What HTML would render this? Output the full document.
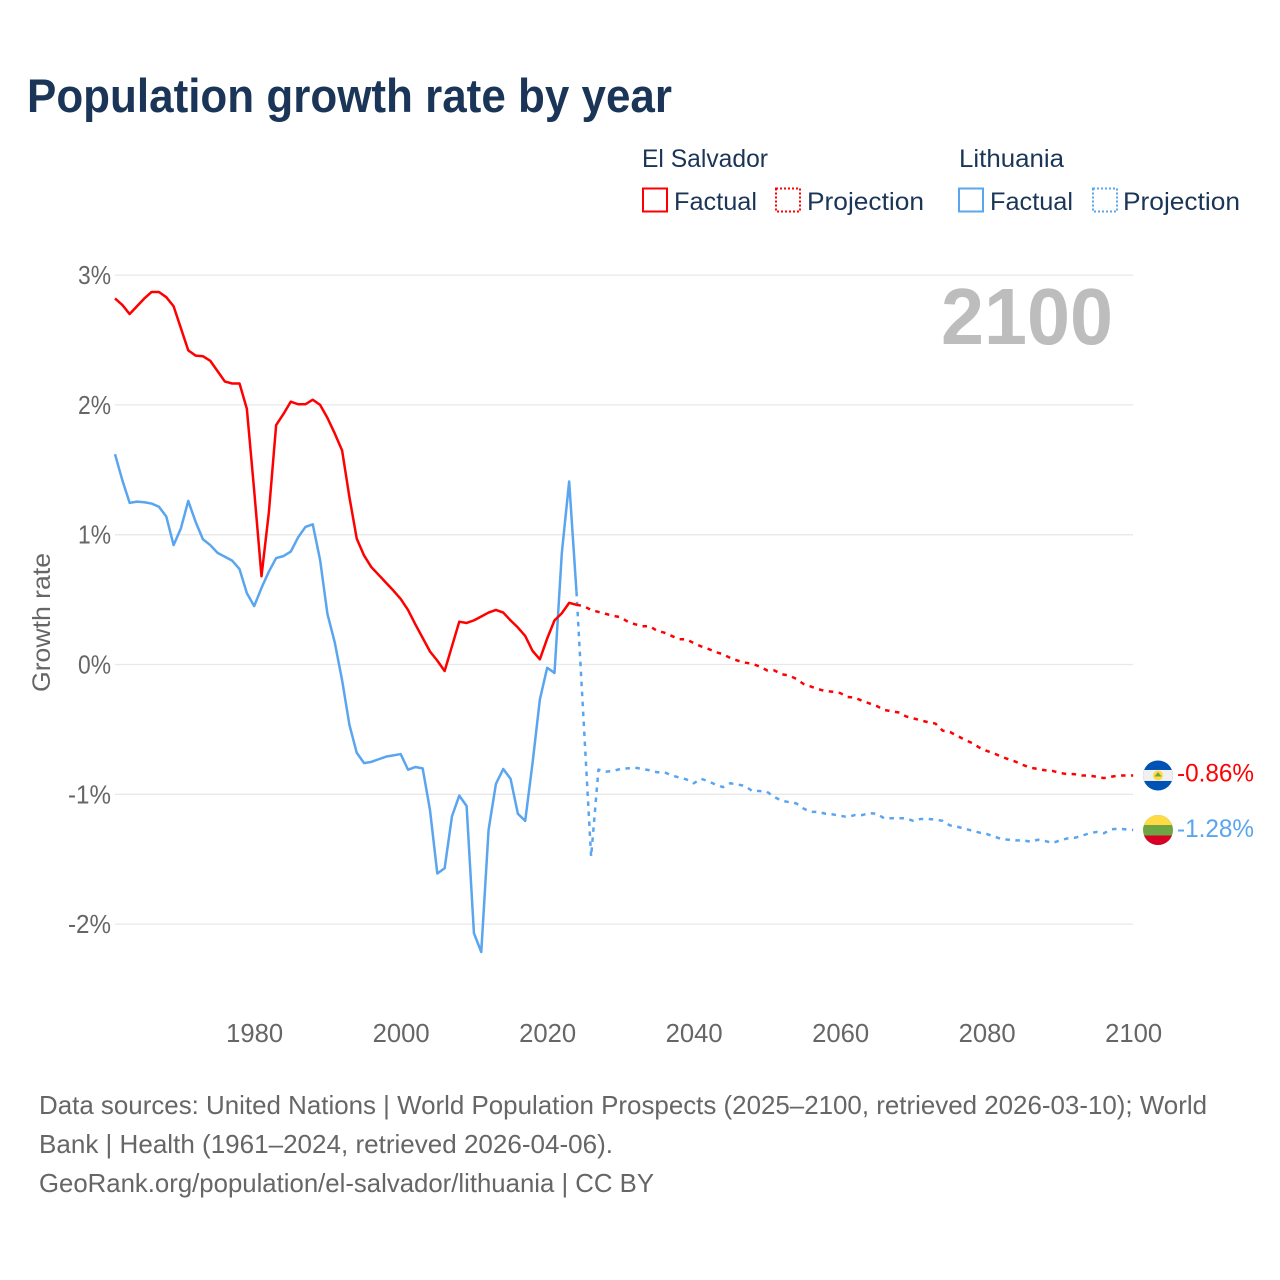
<!DOCTYPE html>
<html lang="en">
<head>
<meta charset="utf-8">
<title>Population growth rate by year</title>
<style>
html,body{margin:0;padding:0;background:#fff;}
svg{display:block;}
text{font-family:"Liberation Sans",sans-serif;}
.legend-text{font-size:25px;fill:#1b3556;}
.tick{font-size:26px;fill:#666;}
.foot{font-size:26px;fill:#666;}
</style>
</head>
<body>
<svg id="chart" xmlns="http://www.w3.org/2000/svg" width="1280" height="1280" viewBox="0 0 1280 1280">
  <defs>
    <clipPath id="flag-clip"><circle cx="0" cy="0" r="15"/></clipPath>
  </defs>
  <rect x="0" y="0" width="1280" height="1280" fill="#fff"/>
  <text x="27" y="112" font-size="47" font-weight="700" fill="#1a3557" textLength="645" lengthAdjust="spacingAndGlyphs">Population growth rate by year</text>

  <g>
    <text class="legend-text" x="642" y="167" textLength="126" lengthAdjust="spacingAndGlyphs">El Salvador</text>
    <rect x="643" y="188.5" width="24" height="23" fill="none" stroke="#ff0000" stroke-width="2"/>
    <text class="legend-text" x="674" y="210" textLength="83" lengthAdjust="spacingAndGlyphs">Factual</text>
    <rect x="776" y="188.5" width="24" height="23" fill="none" stroke="#ff0000" stroke-width="2" stroke-dasharray="2 2"/>
    <text class="legend-text" x="807" y="210" textLength="117" lengthAdjust="spacingAndGlyphs">Projection</text>
    <text class="legend-text" x="959" y="167" textLength="105" lengthAdjust="spacingAndGlyphs">Lithuania</text>
    <rect x="959" y="188.5" width="24" height="23" fill="none" stroke="#5aa5ef" stroke-width="2"/>
    <text class="legend-text" x="990" y="210" textLength="83" lengthAdjust="spacingAndGlyphs">Factual</text>
    <rect x="1093" y="188.5" width="24" height="23" fill="none" stroke="#5aa5ef" stroke-width="2" stroke-dasharray="2 2"/>
    <text class="legend-text" x="1123" y="210" textLength="117" lengthAdjust="spacingAndGlyphs">Projection</text>
  </g>

  <g id="grid"></g>
  <g id="yticks"></g>
  <g id="xticks"></g>

  <text transform="translate(50,692) rotate(-90)" x="0" y="0" font-size="25" fill="#666" textLength="139" lengthAdjust="spacingAndGlyphs">Growth rate</text>
  <text x="941" y="344" font-size="80" font-weight="700" fill="#bdbdbd" textLength="172" lengthAdjust="spacingAndGlyphs">2100</text>

  <g id="series"></g>

  <g id="flag-sv">
    <g clip-path="url(#flag-clip)">
      <rect x="-15" y="-15" width="30" height="30" fill="#0052b4"/>
      <rect x="-15" y="-5.5" width="30" height="11" fill="#f0f0f0"/>
    </g>
    <circle cx="0" cy="0" r="5" fill="#ffda44"/>
    <path d="M-3.6 1H3.6L0-3.4Z" fill="#6da544"/>
  </g>
  <g id="flag-lt">
    <g clip-path="url(#flag-clip)">
      <rect x="-15" y="-15" width="30" height="30" fill="#6da544"/>
      <rect x="-15" y="-15" width="30" height="10" fill="#ffda44"/>
      <rect x="-15" y="5.5" width="30" height="10" fill="#d80027"/>
    </g>
  </g>
  <text id="label-sv" x="1177" y="0" font-size="25" fill="#ff0000" textLength="77" lengthAdjust="spacingAndGlyphs">-0.86%</text>
  <text id="label-lt" x="1177" y="0" font-size="25" fill="#5aa5ef" textLength="77" lengthAdjust="spacingAndGlyphs">-1.28%</text>

  <g>
    <text class="foot" x="39" y="1114" textLength="1168" lengthAdjust="spacingAndGlyphs">Data sources: United Nations | World Population Prospects (2025–2100, retrieved 2026-03-10); World</text>
    <text class="foot" x="39" y="1153" textLength="574" lengthAdjust="spacingAndGlyphs">Bank | Health (1961–2024, retrieved 2026-04-06).</text>
    <text class="foot" x="39" y="1192" textLength="615" lengthAdjust="spacingAndGlyphs">GeoRank.org/population/el-salvador/lithuania | CC BY</text>
  </g>
</svg>
<script>
const yTicks = [3, 2, 1, 0, -1, -2];
const yTickLabels = ["3%", "2%", "1%", "0%", "-1%", "-2%"];
const xTicks = [1980, 2000, 2020, 2040, 2060, 2080, 2100];
const xTickLabels = ["1980", "2000", "2020", "2040", "2060", "2080", "2100"];
const firstFactualYear = 1961;
const firstProjectionYear = 2025;

const elSalvadorFactual = [
2.82,2.77,2.70,2.76,2.82,2.87,2.87,2.83,2.76,2.59,
2.42,2.38,2.375,2.34,2.26,2.18,2.165,2.165,1.97,1.34,
0.68,1.17,1.845,1.93,2.025,2.005,2.005,2.04,2.0,1.90,
1.78,1.65,1.29,0.97,0.84,0.75,0.69,0.63,0.57,0.505,
0.42,0.31,0.205,0.10,0.03,-0.05,0.14,0.33,0.32,0.34,
0.37,0.40,0.42,0.40,0.34,0.285,0.22,0.105,0.04,0.20,
0.34,0.395,0.475,0.46];

const elSalvadorProjection = [
0.45,0.42,0.405,0.39,0.375,0.365,0.33,0.31,0.295,0.295,
0.26,0.245,0.22,0.195,0.195,0.165,0.14,0.12,0.095,0.08,
0.05,0.03,0.015,0.005,-0.015,-0.045,-0.045,-0.075,-0.085,-0.11,
-0.15,-0.17,-0.19,-0.205,-0.21,-0.22,-0.25,-0.255,-0.28,-0.30,
-0.32,-0.35,-0.36,-0.37,-0.40,-0.415,-0.43,-0.445,-0.455,-0.51,
-0.52,-0.55,-0.58,-0.605,-0.64,-0.665,-0.685,-0.71,-0.73,-0.75,
-0.775,-0.795,-0.805,-0.815,-0.82,-0.835,-0.845,-0.845,-0.855,-0.855,
-0.865,-0.875,-0.865,-0.855,-0.855,-0.855];

const lithuaniaFactual = [
1.62,1.42,1.245,1.255,1.25,1.24,1.215,1.14,0.92,1.05,
1.26,1.10,0.965,0.92,0.86,0.83,0.80,0.735,0.55,0.45,
0.59,0.715,0.82,0.835,0.87,0.98,1.06,1.08,0.805,0.39,
0.17,-0.12,-0.465,-0.68,-0.76,-0.75,-0.73,-0.71,-0.70,-0.69,
-0.81,-0.79,-0.80,-1.12,-1.61,-1.57,-1.17,-1.01,-1.09,-2.07,
-2.215,-1.275,-0.92,-0.805,-0.88,-1.15,-1.205,-0.76,-0.27,-0.025,
-0.065,0.86,1.41,0.56];

const lithuaniaProjection = [
-0.46,-1.48,-0.81,-0.825,-0.82,-0.805,-0.80,-0.795,-0.805,-0.815,
-0.83,-0.83,-0.855,-0.87,-0.885,-0.915,-0.88,-0.90,-0.925,-0.945,
-0.915,-0.925,-0.935,-0.975,-0.975,-0.98,-1.02,-1.05,-1.06,-1.07,
-1.11,-1.135,-1.135,-1.15,-1.155,-1.165,-1.175,-1.16,-1.16,-1.145,
-1.15,-1.185,-1.185,-1.185,-1.185,-1.205,-1.19,-1.19,-1.195,-1.205,
-1.24,-1.25,-1.265,-1.28,-1.295,-1.305,-1.325,-1.345,-1.35,-1.355,
-1.355,-1.365,-1.35,-1.36,-1.375,-1.355,-1.34,-1.335,-1.32,-1.30,
-1.29,-1.30,-1.27,-1.265,-1.27,-1.275];

const SVG_NS = "http://www.w3.org/2000/svg";
const xScale = function (year) { return 115 + (year - 1961) * 7.325; };
const yScale = function (pct) { return 664.5 - pct * 129.8; };

const gridGroup = document.getElementById("grid");
const yTickGroup = document.getElementById("yticks");
const xTickGroup = document.getElementById("xticks");
const seriesGroup = document.getElementById("series");

yTicks.forEach(function (value, i) {
  const line = document.createElementNS(SVG_NS, "line");
  line.setAttribute("x1", 115);
  line.setAttribute("x2", 1133);
  line.setAttribute("y1", yScale(value));
  line.setAttribute("y2", yScale(value));
  line.setAttribute("stroke", "#e8e8e8");
  line.setAttribute("stroke-width", "1.3");
  
  
  gridGroup.appendChild(line);

  const label = document.createElementNS(SVG_NS, "text");
  label.setAttribute("x", 111);
  label.setAttribute("y", yScale(value) + 9);
  label.setAttribute("text-anchor", "end");
  label.setAttribute("class", "tick");
  label.setAttribute("textLength", yTickLabels[i].length === 2 ? "33" : "43");
  label.setAttribute("lengthAdjust", "spacingAndGlyphs");
  
  
  label.textContent = yTickLabels[i];
  yTickGroup.appendChild(label);
});

xTicks.forEach(function (value, i) {
  const label = document.createElementNS(SVG_NS, "text");
  label.setAttribute("x", xScale(value) + 0.5);
  label.setAttribute("y", 1042);
  label.setAttribute("text-anchor", "middle");
  label.setAttribute("class", "tick");
  label.setAttribute("textLength", "57");
  label.setAttribute("lengthAdjust", "spacingAndGlyphs");
  
  
  label.textContent = xTickLabels[i];
  xTickGroup.appendChild(label);
});

function buildPath(startYear, values, prefix) {
  let d = prefix;
  values.forEach(function (value, i) {
    d += (d === "" ? "M" : "L") + xScale(startYear + i).toFixed(2) + " " + yScale(value).toFixed(2);
  });
  return d;
}

function addLine(d, color, dash, name) {
  const path = document.createElementNS(SVG_NS, "path");
  path.setAttribute("d", d);
  path.setAttribute("fill", "none");
  path.setAttribute("stroke", color);
  path.setAttribute("stroke-width", "2.5");
  path.setAttribute("stroke-linejoin", "round");
  if (dash) { path.setAttribute("stroke-dasharray", dash); }
  
  
  seriesGroup.appendChild(path);
}

function connector(values) {
  const last = values[values.length - 1];
  return "M" + xScale(firstFactualYear + values.length - 1).toFixed(2) + " " + yScale(last).toFixed(2);
}

addLine(buildPath(firstProjectionYear, lithuaniaProjection, connector(lithuaniaFactual)), "#5aa5ef", "4.5 5.5", "lithuania-projection-line");
addLine(buildPath(firstProjectionYear, elSalvadorProjection, connector(elSalvadorFactual)), "#ff0000", "4.5 5.5", "el-salvador-projection-line");
addLine(buildPath(firstFactualYear, lithuaniaFactual, ""), "#5aa5ef", null, "lithuania-factual-line");
addLine(buildPath(firstFactualYear, elSalvadorFactual, ""), "#ff0000", null, "el-salvador-factual-line");

const endSv = yScale(elSalvadorProjection[elSalvadorProjection.length - 1]);
const endLt = yScale(lithuaniaProjection[lithuaniaProjection.length - 1]);
document.getElementById("flag-sv").setAttribute("transform", "translate(1158," + endSv + ")");
document.getElementById("flag-lt").setAttribute("transform", "translate(1158," + endLt + ")");
document.getElementById("label-sv").setAttribute("y", endSv + 6);
document.getElementById("label-lt").setAttribute("y", endLt + 7);
</script>
</body>
</html>
